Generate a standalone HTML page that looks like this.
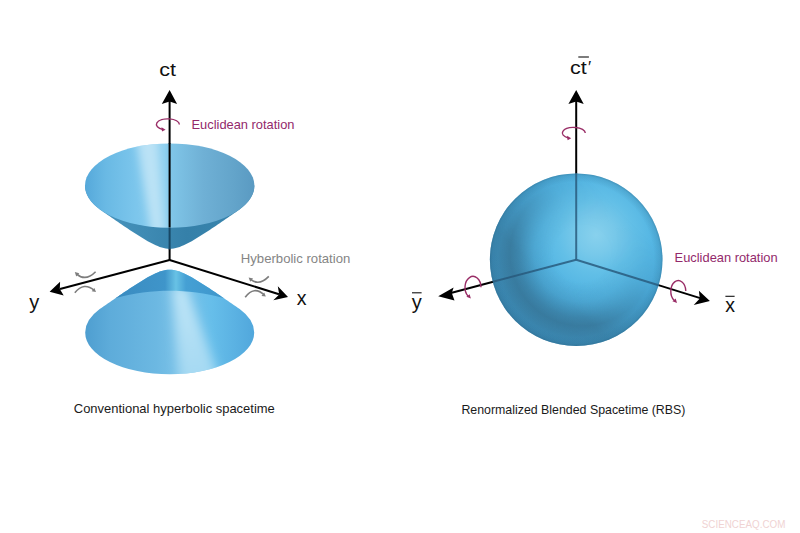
<!DOCTYPE html>
<html lang="en">
<head>
<meta charset="utf-8">
<title>Conventional hyperbolic spacetime vs Renormalized Blended Spacetime</title>
<style>
html,body{margin:0;padding:0;background:#fff;}
body{width:800px;height:533px;overflow:hidden;}
svg{display:block;}
text{font-family:"Liberation Sans",Arial,sans-serif;}
.ax{stroke:#000;stroke-width:2;fill:none;stroke-linecap:butt;}
.lab{font-size:19px;fill:#111;}
.cap{font-size:13px;fill:#1a1a1a;}
.eu{font-size:12.4px;fill:#93296b;}
.hy{font-size:12.4px;fill:#858585;}
.rot{stroke:#992d66;stroke-width:1.4;fill:none;}
.roth{fill:#992d66;stroke:none;}
.hyp{stroke:#7d7d7d;stroke-width:1.6;fill:none;}
.hyph{fill:#7d7d7d;stroke:none;}
</style>
</head>
<body>
<svg width="800" height="533" viewBox="0 0 800 533">
<defs>
  <linearGradient id="gIn" x1="85" y1="0" x2="254.4" y2="0" gradientUnits="userSpaceOnUse">
    <stop offset="0" stop-color="#55a8da"/>
    <stop offset="0.12" stop-color="#69b9e4"/>
    <stop offset="0.30" stop-color="#7cc6ec"/>
    <stop offset="0.47" stop-color="#8ccfef"/>
    <stop offset="0.505" stop-color="#80c6e8"/>
    <stop offset="0.70" stop-color="#6fb0d5"/>
    <stop offset="0.88" stop-color="#63a4ca"/>
    <stop offset="1" stop-color="#5a9ac2"/>
  </linearGradient>
  <clipPath id="clipIn"><ellipse cx="169.7" cy="185.6" rx="84.7" ry="42.2"/></clipPath>
  <linearGradient id="gOut" x1="85" y1="0" x2="254.4" y2="0" gradientUnits="userSpaceOnUse">
    <stop offset="0" stop-color="#4a96c0"/>
    <stop offset="0.35" stop-color="#3f8bb4"/>
    <stop offset="0.6" stop-color="#3580a9"/>
    <stop offset="1" stop-color="#3a86ae"/>
  </linearGradient>
  <linearGradient id="gLow" x1="85" y1="0" x2="254.4" y2="0" gradientUnits="userSpaceOnUse">
    <stop offset="0" stop-color="#4e9ed0"/>
    <stop offset="0.15" stop-color="#5eacda"/>
    <stop offset="0.42" stop-color="#6cb8e2"/>
    <stop offset="0.55" stop-color="#7ac2e8"/>
    <stop offset="0.75" stop-color="#66beea"/>
    <stop offset="1" stop-color="#51a7dc"/>
  </linearGradient>
  <linearGradient id="gCap" x1="120" y1="0" x2="220" y2="0" gradientUnits="userSpaceOnUse">
    <stop offset="0" stop-color="#3a8cc1"/>
    <stop offset="0.45" stop-color="#3f95ca"/>
    <stop offset="0.56" stop-color="#68c2e5"/>
    <stop offset="0.66" stop-color="#45a0d4"/>
    <stop offset="1" stop-color="#3f97cc"/>
  </linearGradient>
  <linearGradient id="gHi" x1="0" y1="284" x2="0" y2="372" gradientUnits="userSpaceOnUse">
    <stop offset="0" stop-color="#c4e8f8" stop-opacity="0.95"/>
    <stop offset="1" stop-color="#b4e0f5" stop-opacity="0.8"/>
  </linearGradient>
  <radialGradient id="gSph" cx="596" cy="235" r="126" gradientUnits="userSpaceOnUse">
    <stop offset="0" stop-color="#88d1ed"/>
    <stop offset="0.15" stop-color="#78c9ea"/>
    <stop offset="0.30" stop-color="#62bfe7"/>
    <stop offset="0.45" stop-color="#55b6e3"/>
    <stop offset="0.65" stop-color="#4aacdd"/>
    <stop offset="0.85" stop-color="#43a2d4"/>
    <stop offset="1" stop-color="#3e9acd"/>
  </radialGradient>
  <radialGradient id="gSphBand" cx="582" cy="254" r="100" gradientUnits="userSpaceOnUse">
    <stop offset="0.28" stop-color="#2f5d78" stop-opacity="0"/>
    <stop offset="0.48" stop-color="#2f5d78" stop-opacity="0.18"/>
    <stop offset="0.64" stop-color="#2f5d78" stop-opacity="0.50"/>
    <stop offset="0.72" stop-color="#2f5d78" stop-opacity="0.60"/>
    <stop offset="0.80" stop-color="#2f5d78" stop-opacity="0.50"/>
    <stop offset="0.88" stop-color="#2f5d78" stop-opacity="0.38"/>
    <stop offset="1" stop-color="#2f5d78" stop-opacity="0.34"/>
  </radialGradient>
  <linearGradient id="gMaskLL" x1="515" y1="321" x2="637" y2="198" gradientUnits="userSpaceOnUse">
    <stop offset="0" stop-color="#fff"/>
    <stop offset="0.30" stop-color="#fff"/>
    <stop offset="0.50" stop-color="#8a8a8a"/>
    <stop offset="0.70" stop-color="#262626"/>
    <stop offset="0.88" stop-color="#000"/>
    <stop offset="1" stop-color="#000"/>
  </linearGradient>
  <mask id="mLL" maskUnits="userSpaceOnUse" x="480" y="165" width="195" height="190"><rect x="480" y="165" width="195" height="190" fill="url(#gMaskLL)"/></mask>
  <radialGradient id="gSphEdge" cx="576.2" cy="259.7" r="86.3" gradientUnits="userSpaceOnUse">
    <stop offset="0.90" stop-color="#245a78" stop-opacity="0"/>
    <stop offset="0.975" stop-color="#245a78" stop-opacity="0.16"/>
    <stop offset="1" stop-color="#245a78" stop-opacity="0.38"/>
  </radialGradient>
  <filter id="blur3" x="-20%" y="-20%" width="140%" height="140%"><feGaussianBlur stdDeviation="3"/></filter>
  <filter id="blur4" x="-30%" y="-30%" width="160%" height="160%"><feGaussianBlur stdDeviation="4.5"/></filter>
  <filter id="blur5" x="-40%" y="-40%" width="180%" height="180%"><feGaussianBlur stdDeviation="5.5"/></filter>
  <filter id="blur1" x="-20%" y="-20%" width="140%" height="140%"><feGaussianBlur stdDeviation="1.2"/></filter>
  <clipPath id="clipLow"><path d="M99.70 309.12 L101.70 307.73 L103.70 306.33 L105.70 304.94 L107.70 303.55 L109.70 302.17 L111.70 300.79 L113.70 299.41 L115.70 298.04 L117.70 296.67 L119.70 295.31 L121.70 293.95 L123.70 292.60 L125.70 291.25 L127.70 289.92 L129.70 288.59 L131.70 287.28 L133.70 285.97 L135.70 284.68 L137.70 283.41 L139.70 282.15 L141.70 280.92 L143.70 279.70 L145.70 278.52 L147.70 277.37 L149.70 276.26 L151.70 275.20 L153.70 274.19 L155.70 273.25 L157.70 272.39 L159.70 271.62 L161.70 270.95 L163.70 270.42 L165.70 270.02 L167.70 269.77 L169.70 269.69 L171.70 269.77 L173.70 270.02 L175.70 270.42 L177.70 270.95 L179.70 271.62 L181.70 272.39 L183.70 273.25 L185.70 274.19 L187.70 275.20 L189.70 276.26 L191.70 277.37 L193.70 278.52 L195.70 279.70 L197.70 280.92 L199.70 282.15 L201.70 283.41 L203.70 284.68 L205.70 285.97 L207.70 287.28 L209.70 288.59 L211.70 289.92 L213.70 291.25 L215.70 292.60 L217.70 293.95 L219.70 295.31 L221.70 296.67 L223.70 298.04 L225.70 299.41 L227.70 300.79 L229.70 302.17 L231.70 303.55 L233.70 304.94 L235.70 306.33 L237.70 307.73 L239.70 309.12 L239.70 309.09 A84.500 41.800 0 0 1 254.200 332.500 A84.500 41.800 0 0 1 85.200 332.500 A84.500 41.800 0 0 1 99.70 309.09 Z"/></clipPath>
</defs>

<!-- ================= LEFT DIAGRAM ================= -->
<!-- vertical axis -->
<line class="ax" x1="169.6" y1="101" x2="169.6" y2="260.500"/>
<polygon points="169.600,89.900 177.100,104 169.600,101.400 161.800,104" fill="#000"/>

<!-- upper cone: outer body -->
<path d="M85 185.600 A84.700 42.200 0 0 0 99.70 209.36 L99.70 209.38 L101.70 210.77 L103.70 212.17 L105.70 213.56 L107.70 214.95 L109.70 216.33 L111.70 217.71 L113.70 219.09 L115.70 220.46 L117.70 221.83 L119.70 223.19 L121.70 224.55 L123.70 225.90 L125.70 227.25 L127.70 228.58 L129.70 229.91 L131.70 231.22 L133.70 232.53 L135.70 233.82 L137.70 235.09 L139.70 236.35 L141.70 237.58 L143.70 238.80 L145.70 239.98 L147.70 241.13 L149.70 242.24 L151.70 243.30 L153.70 244.31 L155.70 245.25 L157.70 246.11 L159.70 246.88 L161.70 247.55 L163.70 248.08 L165.70 248.48 L167.70 248.73 L169.70 248.81 L171.70 248.73 L173.70 248.48 L175.70 248.08 L177.70 247.55 L179.70 246.88 L181.70 246.11 L183.70 245.25 L185.70 244.31 L187.70 243.30 L189.70 242.24 L191.70 241.13 L193.70 239.98 L195.70 238.80 L197.70 237.58 L199.70 236.35 L201.70 235.09 L203.70 233.82 L205.70 232.53 L207.70 231.22 L209.70 229.91 L211.70 228.58 L213.70 227.25 L215.70 225.90 L217.70 224.55 L219.70 223.19 L221.70 221.83 L223.70 220.46 L225.70 219.09 L227.70 217.71 L229.70 216.33 L231.70 214.95 L233.70 213.56 L235.70 212.17 L237.70 210.77 L239.70 209.38 L239.70 209.36 A84.700 42.200 0 0 0 254.400 185.600 Z" fill="url(#gOut)"/>
<!-- axis seen through outer body -->
<line x1="169.600" y1="226" x2="169.600" y2="249.500" stroke="#184866" stroke-width="2"/>
<!-- upper cone: interior -->
<ellipse cx="169.700" cy="185.600" rx="84.700" ry="42.200" fill="url(#gIn)"/>
<g clip-path="url(#clipIn)"><polygon points="136,136 158,136 165,238 152,238" fill="#c8e8f8" fill-opacity="0.8" filter="url(#blur4)"/></g>
<line class="ax" x1="169.600" y1="143" x2="169.600" y2="227.500"/>

<!-- lower cone -->
<path d="M99.70 309.12 L101.70 307.73 L103.70 306.33 L105.70 304.94 L107.70 303.55 L109.70 302.17 L111.70 300.79 L113.70 299.41 L115.70 298.04 L117.70 296.67 L119.70 295.31 L121.70 293.95 L123.70 292.60 L125.70 291.25 L127.70 289.92 L129.70 288.59 L131.70 287.28 L133.70 285.97 L135.70 284.68 L137.70 283.41 L139.70 282.15 L141.70 280.92 L143.70 279.70 L145.70 278.52 L147.70 277.37 L149.70 276.26 L151.70 275.20 L153.70 274.19 L155.70 273.25 L157.70 272.39 L159.70 271.62 L161.70 270.95 L163.70 270.42 L165.70 270.02 L167.70 269.77 L169.70 269.69 L171.70 269.77 L173.70 270.02 L175.70 270.42 L177.70 270.95 L179.70 271.62 L181.70 272.39 L183.70 273.25 L185.70 274.19 L187.70 275.20 L189.70 276.26 L191.70 277.37 L193.70 278.52 L195.70 279.70 L197.70 280.92 L199.70 282.15 L201.70 283.41 L203.70 284.68 L205.70 285.97 L207.70 287.28 L209.70 288.59 L211.70 289.92 L213.70 291.25 L215.70 292.60 L217.70 293.95 L219.70 295.31 L221.70 296.67 L223.70 298.04 L225.70 299.41 L227.70 300.79 L229.70 302.17 L231.70 303.55 L233.70 304.94 L235.70 306.33 L237.70 307.73 L239.70 309.12 L239.70 309.09 A84.500 41.800 0 0 1 254.200 332.500 A84.500 41.800 0 0 1 85.200 332.500 A84.500 41.800 0 0 1 99.70 309.09 Z" fill="url(#gLow)"/>
<g clip-path="url(#clipLow)">
  <polygon points="172,286 186,286 222,386 180,386" fill="url(#gHi)" filter="url(#blur5)"/>
  <path d="M116 298 C134 293 152 290.800 169.700 290.800 C187.400 290.800 205.400 293 223.400 298 L240 262 L100 262 Z" fill="url(#gCap)"/>
</g>

<!-- x / y axes -->
<line class="ax" x1="169.600" y1="260" x2="60" y2="289"/>
<polygon points="49.600,291.700 60.100,281.800 59.800,288.900 63.700,295.600" fill="#000"/>
<line class="ax" x1="169.600" y1="260" x2="279" y2="294.200"/>
<polygon points="288,296.900 273.300,300.200 279.200,294.600 277.800,286.300" fill="#000"/>

<!-- labels -->
<text class="lab" x="159.200" y="75.900" style="font-size:18.600px" textLength="16.700" lengthAdjust="spacingAndGlyphs">ct</text>
<text class="lab" x="29.300" y="308.800" style="font-size:20px">y</text>
<text class="lab" x="296.800" y="304.500" style="font-size:19.500px">x</text>

<!-- Euclidean rotation icon (left) -->
<path class="rot" d="M179.400 124.400 A11.500 5.600 0 1 0 163 129.500"/>
<polygon class="roth" points="165.600,129.700 161.500,127.300 162,131.600"/>
<text class="eu" x="191.500" y="128.800" textLength="103" lengthAdjust="spacingAndGlyphs">Euclidean rotation</text>

<!-- Hyperbolic rotation -->
<text class="hy" x="240.800" y="262.800" textLength="109.500" lengthAdjust="spacingAndGlyphs">Hyberbolic rotation</text>
<path class="hyp" d="M76.500 273.800 Q85.500 282 95.600 271.700"/>
<polygon class="hyph" points="74.800,272 79.300,273.200 76.200,276.400"/>
<path class="hyp" d="M74.800 292.700 Q84 281.500 94.200 290.300"/>
<polygon class="hyph" points="96,292 91.700,291.300 94.400,288"/>
<path class="hyp" d="M250.300 279.200 Q259 286.500 268.800 276.400"/>
<polygon class="hyph" points="248.600,277.500 253.100,278.500 250.200,281.800"/>
<path class="hyp" d="M245.200 297.200 Q254 285.500 264 294.700"/>
<polygon class="hyph" points="265.800,296.500 261.500,295.900 264.200,292.500"/>

<text class="cap" x="73.800" y="413.400" textLength="201" lengthAdjust="spacingAndGlyphs">Conventional hyperbolic spacetime</text>

<!-- ================= RIGHT DIAGRAM ================= -->
<line class="ax" x1="576.200" y1="101" x2="576.200" y2="175"/>
<polygon points="576.200,89.900 583.700,104 576.200,101.400 568.400,104" fill="#000"/>
<line class="ax" x1="496" y1="281" x2="449" y2="293.450"/>
<polygon points="438.200,296.300 453.600,287.400 451.800,292.900 454.500,300.400" fill="#000"/>
<line class="ax" x1="656" y1="284.400" x2="701" y2="298.400"/>
<polygon points="709.900,301.100 693.700,305.100 699.800,298.500 698.900,290.700" fill="#000"/>

<!-- sphere -->
<circle cx="576.200" cy="259.700" r="86.300" fill="url(#gSph)"/>
<circle cx="576.200" cy="259.700" r="86.300" fill="url(#gSphBand)" mask="url(#mLL)"/>
<circle cx="576.200" cy="259.700" r="86.300" fill="url(#gSphEdge)"/>
<!-- axes inside sphere -->
<g stroke="#27587a" stroke-width="2" stroke-opacity="0.82" fill="none">
  <line x1="576.200" y1="173.500" x2="576.200" y2="259.700"/>
  <line x1="576.200" y1="259.700" x2="492.800" y2="281.800"/>
  <line x1="576.200" y1="259.700" x2="658.600" y2="285.200"/>
</g>

<!-- labels -->
<text class="lab" x="570.100" y="74.400" style="font-size:18.600px" textLength="16.700" lengthAdjust="spacingAndGlyphs">ct</text>
<text class="lab" x="588" y="73.400" style="font-size:17px">′</text>
<line x1="578.300" y1="57" x2="588.900" y2="57" stroke="#111" stroke-width="1.100"/>
<text class="lab" x="411.800" y="309.200" style="font-size:20px">y</text>
<line x1="412" y1="292.800" x2="421.600" y2="292.800" stroke="#111" stroke-width="1.100"/>
<text class="lab" x="725.200" y="312.200" style="font-size:19.500px">x</text>
<line x1="725.400" y1="296.300" x2="734.600" y2="296.300" stroke="#111" stroke-width="1.100"/>

<!-- rotation icons right -->
<path class="rot" d="M585.300 133 A11.500 5.600 0 1 0 568.500 138"/>
<polygon class="roth" points="571.200,138.200 567,135.800 567.600,140.200"/>
<path class="rot" d="M481 287.200 A8 11 0 1 0 468 296"/>
<polygon class="roth" points="470.800,298.600 466.400,296.800 469.700,294.200"/>
<path class="rot" d="M685.800 290.900 A7.500 10.800 0 1 0 674 300.200"/>
<polygon class="roth" points="677,303 672.400,301.300 675.700,298.500"/>
<text class="eu" x="674.600" y="261.700" textLength="103" lengthAdjust="spacingAndGlyphs">Euclidean rotation</text>

<text class="cap" x="461.400" y="414.400" textLength="224" lengthAdjust="spacingAndGlyphs">Renormalized Blended Spacetime (RBS)</text>

<!-- watermark -->
<text x="701.800" y="528.200" style="font-size:11.700px" fill="#f0d3d3" textLength="83.600" lengthAdjust="spacingAndGlyphs">SCIENCEAQ.COM</text>
</svg>
</body>
</html>
